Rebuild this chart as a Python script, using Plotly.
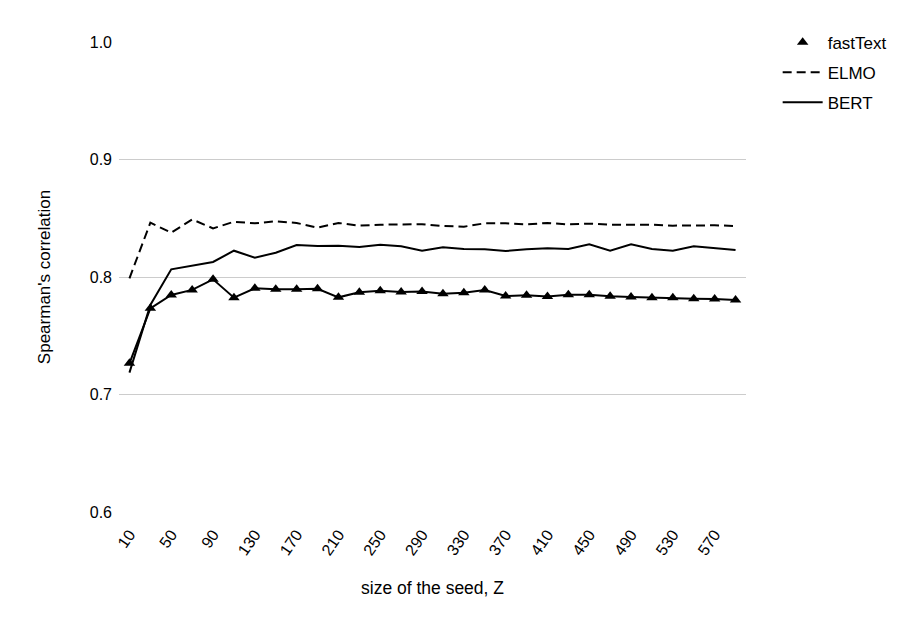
import plotly.graph_objects as go

seed_sizes = [str(v) for v in range(10, 600, 20)]
tick_labels = [str(v) for v in range(10, 600, 40)]

fasttext = [0.7265, 0.7733, 0.7847, 0.7890, 0.7980, 0.7824, 0.7904, 0.7895, 0.7895, 0.7900,
            0.7827, 0.7870, 0.7883, 0.7872, 0.7876, 0.7858, 0.7867, 0.7890, 0.7838, 0.7844,
            0.7833, 0.7850, 0.7850, 0.7836, 0.7830, 0.7824, 0.7824, 0.7815, 0.7813, 0.7804]

elmo = [0.7989, 0.8462, 0.8377, 0.8490, 0.8414, 0.8470, 0.8457, 0.8474, 0.8460, 0.8420,
        0.8460, 0.8437, 0.8445, 0.8450, 0.8450, 0.8434, 0.8428, 0.8457, 0.8457, 0.8448,
        0.8460, 0.8448, 0.8454, 0.8445, 0.8445, 0.8445, 0.8437, 0.8440, 0.8440, 0.8434]

bert = [0.7186, 0.7762, 0.8065, 0.8094, 0.8128, 0.8224, 0.8164, 0.8207, 0.8272, 0.8264,
        0.8266, 0.8255, 0.8275, 0.8261, 0.8224, 0.8253, 0.8238, 0.8236, 0.8221, 0.8236,
        0.8244, 0.8238, 0.8278, 0.8224, 0.8278, 0.8238, 0.8224, 0.8261, 0.8244, 0.8230]

FONT = "Liberation Sans, Arial, sans-serif"

fig = go.Figure()
fig.add_trace(go.Scatter(x=seed_sizes, y=fasttext, mode="lines", line=dict(color="black", width=2),
                         showlegend=False, legendgroup="ft", hoverinfo="skip"))
fig.add_trace(go.Scatter(x=seed_sizes, y=fasttext, mode="markers", name="fastText", legendgroup="ft",
                         marker=dict(symbol="triangle-up", size=10, color="black")))
fig.add_trace(go.Scatter(x=seed_sizes, y=elmo, mode="lines", name="ELMO", legendgroup="elmo",
                         line=dict(color="black", width=2, dash="9px,5px")))
fig.add_trace(go.Scatter(x=seed_sizes, y=bert, mode="lines", name="BERT", legendgroup="bert",
                         line=dict(color="black", width=2)))

fig.update_layout(
    width=915, height=624,
    margin=dict(l=111, r=177, t=34, b=120, autoexpand=False),
    plot_bgcolor="white", paper_bgcolor="white",
    font=dict(family=FONT, size=16, color="black"),
    legend=dict(x=1.0505, y=1.037, xanchor="left", yanchor="top", tracegroupgap=5,
                itemwidth=40,
                font=dict(family=FONT, size=17, color="black"), bgcolor="rgba(0,0,0,0)"),
    xaxis=dict(
        type="category", range=[-0.5, 29.5], automargin=False,
        tickmode="array", tickvals=tick_labels, ticktext=tick_labels,
        tickangle=-55, showgrid=False, showline=False, zeroline=False,
        ticks="outside", ticklen=6, tickcolor="rgba(0,0,0,0)",
        title=dict(text="size of the seed, Z", standoff=24,
                   font=dict(family=FONT, size=17.5, color="black")),
        tickfont=dict(family=FONT, size=16, color="black"),
    ),
    yaxis=dict(
        range=[0.6, 1.0], dtick=0.1, tick0=0.6, tickformat=".1f", automargin=False,
        showgrid=True, gridcolor="#cccccc", gridwidth=1, zeroline=False, showline=False,
        title=dict(text="Spearman's correlation", standoff=34,
                   font=dict(family=FONT, size=17, color="black")),
        tickfont=dict(family=FONT, size=16, color="black"), ticklabelstandoff=6,
    ),
)

fig.write_html("out.html")
